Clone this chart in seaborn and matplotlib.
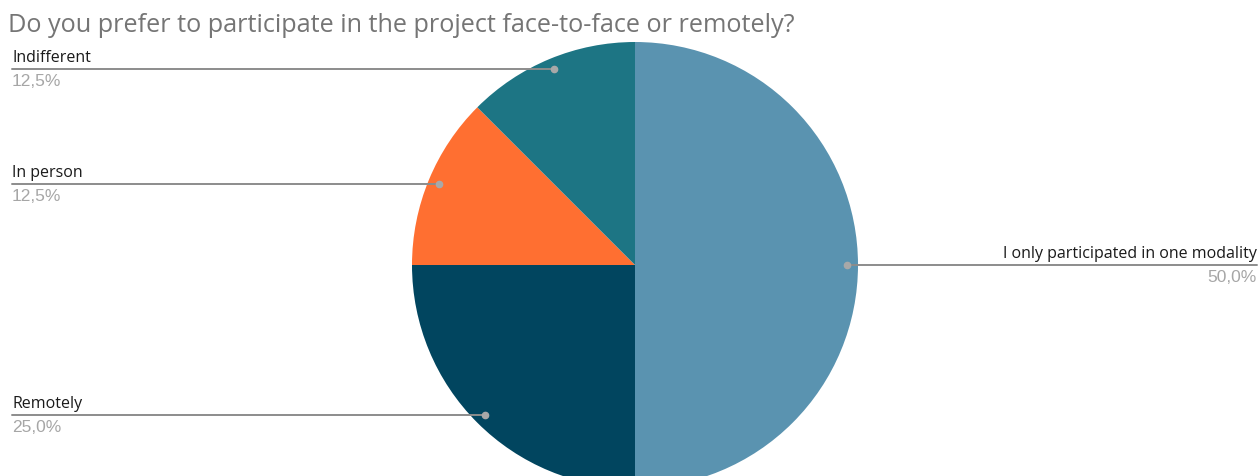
import numpy as np
import matplotlib
matplotlib.use("Agg")
import matplotlib.pyplot as plt
import seaborn as sns

# Survey answers, clockwise from 12 o'clock
categories = ["I only participated in one modality", "Remotely", "In person", "Indifferent"]
shares = [50.0, 25.0, 12.5, 12.5]
value_labels = ["50,0%", "25,0%", "12,5%", "12,5%"]
colors = ["#5A93B0", "#01455F", "#FF6F31", "#1D7584"]

title = "Do you prefer to participate in the project face-to-face or remotely?"

sns.set_theme(style="white")
plt.rcParams["font.family"] = ["Open Sans", "DejaVu Sans"]

W, H = 1260, 477
fig = plt.figure(figsize=(W / 100, H / 100), dpi=100)
ax = fig.add_axes([0, 0, 1, 1])

# pie centre given in a pixel-like frame measured from the bottom edge
cx, cy, R = 635, H - 266, 223
wedges, _ = ax.pie(shares, colors=colors, startangle=90, counterclock=False,
                   center=(cx, cy), radius=R,
                   wedgeprops=dict(linewidth=0))
ax.set_xlim(0, W)
ax.set_ylim(0, H)
ax.set_aspect("equal")
ax.axis("off")

line_col = "#8C8C8C"
left_x, right_x = 12, 1257
for w, cat, val in zip(wedges, categories, value_labels):
    mid = np.deg2rad((w.theta1 + w.theta2) / 2)
    dx = cx + 0.95 * R * np.cos(mid)
    dy = cy + 0.95 * R * np.sin(mid)
    ax.plot([dx], [dy], "o", color="#A8A8A8", ms=4.5, zorder=5)
    if np.cos(mid) < 0:
        x0, x1, tx, ha = left_x, dx, left_x, "left"
    else:
        x0, x1, tx, ha = dx, right_x, right_x, "right"
    ax.plot([x0, x1], [dy, dy], color=line_col, lw=1.4, zorder=4)
    ax.text(tx, dy + 4, cat, ha=ha, va="bottom",
            fontsize=11.5, color="#1A1A1A")
    ax.text(tx, dy - 4, val, ha=ha, va="top",
            fontsize=12.5, color="#A6A6A6", family="Liberation Sans")

ax.text(8, H - 25, title, ha="left", va="center", fontsize=18.2, color="#757575")

fig.savefig("out.png", dpi=100, facecolor="white")
